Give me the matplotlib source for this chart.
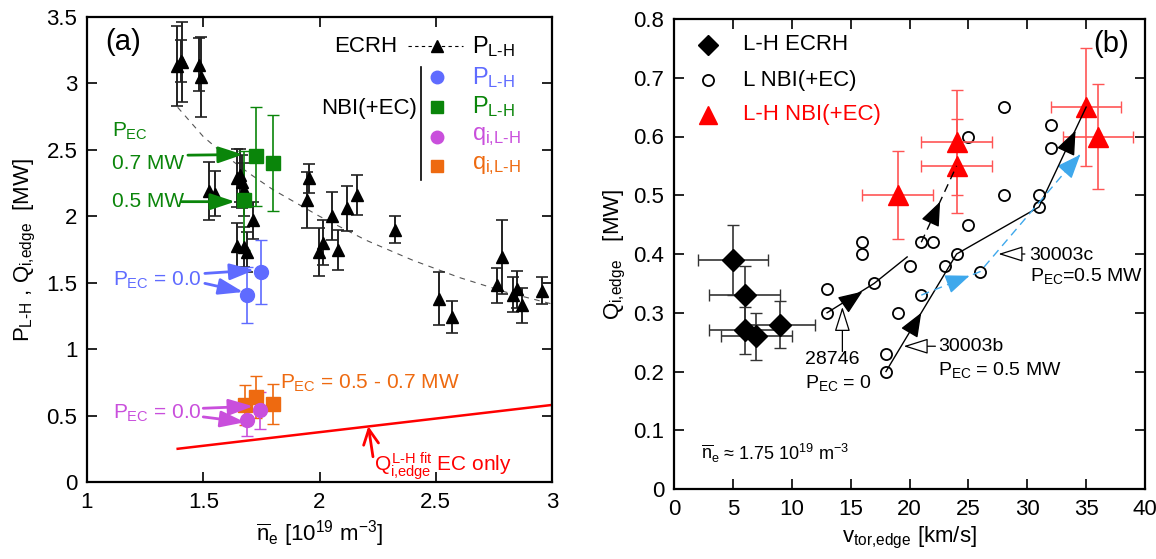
import matplotlib
matplotlib.use("Agg")
import matplotlib.pyplot as plt

plt.rcParams['font.family'] = ['Liberation Sans', 'DejaVu Sans']
plt.rcParams['mathtext.fontset'] = 'custom'
plt.rcParams['mathtext.rm'] = 'Liberation Sans'
plt.rcParams['mathtext.it'] = 'Liberation Sans'
plt.rcParams['mathtext.bf'] = 'Liberation Sans:bold'

BLUE = '#5f6bff'
GREEN = '#0a850a'
MAGENTA = '#c94fdc'
ORANGE = '#ee6a10'
LBLUE = '#3ea8ec'
HY = '\u2010'  # hyphen inside mathtext

# ---------------- panel (a) data ----------------
ecrh_ne = [1.385, 1.41, 1.405, 1.483, 1.49, 1.526, 1.55, 1.644, 1.658, 1.665,
           1.677, 1.713, 1.646, 1.677, 1.687, 1.948, 1.955, 1.999, 2.016, 2.052,
           2.081, 2.12, 2.16, 2.325, 2.514, 2.569, 2.765, 2.784, 2.831, 2.851,
           2.87, 2.958]
ecrh_p = [3.13, 3.16, 3.17, 3.14, 3.05, 2.19, 2.17, 2.29, 2.31, 2.26,
          2.20, 1.97, 1.78, 1.77, 1.73, 2.12, 2.285, 1.73, 1.80, 2.00,
          1.745, 2.06, 2.16, 1.90, 1.38, 1.24, 1.48, 1.695, 1.41, 1.45,
          1.33, 1.44]
ecrh_err = [0.30, 0.30, 0.16, 0.20, 0.30, 0.22, 0.17, 0.22, 0.20, 0.20,
            0.20, 0.14, 0.17, 0.15, 0.15, 0.21, 0.11, 0.18, 0.17, 0.18,
            0.15, 0.17, 0.15, 0.10, 0.20, 0.12, 0.13, 0.28, 0.13, 0.14,
            0.13, 0.10]

fit_ne = [1.39, 1.5, 1.6, 1.7, 1.8, 1.9, 2.0, 2.2, 2.4, 2.6, 2.8, 3.0]
fit_p = [2.82, 2.60, 2.45, 2.32, 2.20, 2.10, 2.00, 1.82, 1.67, 1.54, 1.43, 1.34]

nbi0_ne = [1.69, 1.747]
nbi0_p = [1.41, 1.58]
nbi0_err = [0.21, 0.24]

nbiec_ne = [1.677, 1.727, 1.799]
nbiec_p = [2.12, 2.45, 2.40]
nbiec_err = [0.37, 0.37, 0.36]

q0_ne = [1.687, 1.744]
q0 = [0.47, 0.54]
q0_err = [0.12, 0.14]

qec_ne = [1.68, 1.726, 1.80]
qec = [0.58, 0.64, 0.59]
qec_err = [0.15, 0.16, 0.15]

qfit_ne = [1.39, 3.0]
qfit = [0.25, 0.58]

# ---------------- panel (b) data ----------------
lh_ecrh_v = [5, 6, 6, 7, 9]
lh_ecrh_q = [0.39, 0.33, 0.27, 0.26, 0.28]
lh_ecrh_verr = [0.06, 0.05, 0.04, 0.04, 0.04]
lh_ecrh_herr = [3, 3, 3, 3, 3]

l_nbi_v = [28, 25, 28, 32, 32, 31, 31, 25, 21, 22, 16, 16, 24,
           13, 13, 17, 20, 19, 18, 18, 21, 23, 26]
l_nbi_q = [0.65, 0.60, 0.50, 0.62, 0.58, 0.50, 0.48, 0.45, 0.42, 0.42, 0.42, 0.40, 0.40,
           0.34, 0.30, 0.35, 0.38, 0.30, 0.23, 0.20, 0.33, 0.38, 0.37]

lh_nbi_v = [19, 24, 24, 35, 36]
lh_nbi_q = [0.50, 0.55, 0.59, 0.65, 0.60]
lh_nbi_verr = [0.075, 0.08, 0.09, 0.10, 0.09]
lh_nbi_herr = [3, 3, 3, 3, 3]

s28746_v = [13, 17, 19.8]
s28746_q = [0.30, 0.35, 0.395]
s28746b_v = [21, 24]
s28746b_q = [0.42, 0.55]
s30003b_v = [18, 24, 31, 35]
s30003b_q = [0.20, 0.40, 0.48, 0.65]
s30003c_v = [21, 26, 34.5]
s30003c_q = [0.33, 0.37, 0.57]

W, H = 1156, 559
fig = plt.figure(figsize=(W / 100, H / 100), dpi=100)
ax1 = fig.add_axes([87 / W, 1 - 482 / H, 465 / W, 465 / H])
ax2 = fig.add_axes([674 / W, 1 - 489 / H, 471 / W, 470 / H])

FS = 16


def style(ax):
    ax.tick_params(direction='in', top=True, right=True, length=7, width=1.2,
                   labelsize=FS, pad=7)
    for s in ax.spines.values():
        s.set_linewidth(1.6)


def head(ax, tail, tip, color, ms=30):
    ax.annotate('', xy=tip, xytext=tail,
                arrowprops=dict(arrowstyle='-|>,head_length=0.5,head_width=0.2',
                                color=color, lw=1, mutation_scale=ms,
                                shrinkA=0, shrinkB=0))


def arrow(ax, tail, tip, color, lw=2, ms=20):
    ax.annotate('', xy=tip, xytext=tail,
                arrowprops=dict(arrowstyle='-|>,head_length=0.75,head_width=0.25',
                                color=color, lw=lw, mutation_scale=ms,
                                shrinkA=0, shrinkB=0))


# ================= panel (a) =================
ax = ax1
ax.plot(fit_ne, fit_p, ls=(0, (5, 5)), color='#555555', lw=0.8)
ax.errorbar(ecrh_ne, ecrh_p, yerr=ecrh_err, fmt='^', color='k', ms=9,
            ecolor='#222222', elinewidth=1.4, capsize=4, capthick=1.2)
ax.errorbar(nbiec_ne, nbiec_p, yerr=nbiec_err, fmt='s', color=GREEN, ms=10,
            elinewidth=1.2, capsize=4)
ax.errorbar(nbi0_ne, nbi0_p, yerr=nbi0_err, fmt='o', color=BLUE, ms=10,
            elinewidth=1.2, capsize=4)
ax.errorbar(qec_ne, qec, yerr=qec_err, fmt='s', color=ORANGE, ms=10,
            elinewidth=1.2, capsize=4)
ax.errorbar(q0_ne, q0, yerr=q0_err, fmt='o', color=MAGENTA, ms=10,
            elinewidth=1.2, capsize=4)
ax.plot(qfit_ne, qfit, color='red', lw=1.8)

ax.set_xlim(1, 3)
ax.set_ylim(0, 3.5)
ax.set_xticks([1, 1.5, 2, 2.5, 3])
ax.set_xticklabels(['1', '1.5', '2', '2.5', '3'])
ax.set_yticks([0, 0.5, 1, 1.5, 2, 2.5, 3, 3.5])
ax.set_yticklabels(['0', '0.5', '1', '1.5', '2', '2.5', '3', '3.5'])
style(ax)
ax.set_xlabel(r'$\overline{n}_e$ [10$^{19}$ m$^{-3}$]', fontsize=FS, labelpad=4)
ax.set_ylabel(r'$P_{L' + HY + r'H}$ , $Q_{i{,}edge}$  [MW]', fontsize=FS, labelpad=6)

ax.text(1.077, 3.31, '(a)', fontsize=21, va='center')

# legend (a)
ax.text(2.333, 3.28, 'ECRH', fontsize=FS, ha='right', va='center')
ax.plot([2.381, 2.617], [3.28, 3.28], ls=(0, (3, 3)), color='k', lw=0.8)
ax.plot([2.504], [3.28], '^', color='k', ms=8)
ax.text(2.655, 3.28, r'$P_{L' + HY + 'H}$', fontsize=FS + 1, va='center')
ax.plot([2.435, 2.435], [2.272, 3.125], color='k', lw=1.2)
ax.text(2.419, 2.814, 'NBI(+EC)', fontsize=FS, ha='right', va='center')
leg_rows = [(3.045, 'o', BLUE, r'$P_{L' + HY + 'H}$'),
            (2.824, 's', GREEN, r'$P_{L' + HY + 'H}$'),
            (2.598, 'o', MAGENTA, r'$q_{i{,}L' + HY + 'H}$'),
            (2.380, 's', ORANGE, r'$q_{i{,}L' + HY + 'H}$')]
for y, m, c, lab in leg_rows:
    ax.plot([2.504], [y], m, color=c, ms=9)
    ax.text(2.655, y, lab, color=c, fontsize=FS + 1, va='center')

# annotations (a)
ax.text(1.108, 2.64, r'$P_{EC}$', color=GREEN, fontsize=15, va='center')
ax.text(1.108, 2.40, '0.7 MW', color=GREEN, fontsize=15, va='center')
ax.text(1.108, 2.11, '0.5 MW', color=GREEN, fontsize=15, va='center')
arrow(ax, (1.434, 2.46), (1.671, 2.465), GREEN)
arrow(ax, (1.407, 2.11), (1.637, 2.11), GREEN)

ax.text(1.113, 1.52, r'$P_{EC}$ = 0.0', color=BLUE, fontsize=15, va='center')
arrow(ax, (1.507, 1.57), (1.72, 1.595), BLUE)
arrow(ax, (1.507, 1.495), (1.672, 1.43), BLUE)

ax.text(1.113, 0.52, r'$P_{EC}$ = 0.0', color=MAGENTA, fontsize=15, va='center')
arrow(ax, (1.50, 0.555), (1.715, 0.57), MAGENTA)
arrow(ax, (1.50, 0.49), (1.68, 0.45), MAGENTA)

ax.text(1.83, 0.74, r'$P_{EC}$ = 0.5 - 0.7 MW', color=ORANGE, fontsize=15, va='center')

ax.annotate('', xy=(2.21, 0.42), xytext=(2.23, 0.19),
            arrowprops=dict(arrowstyle='->,head_length=0.6,head_width=0.3',
                            color='red', lw=2, mutation_scale=18,
                            shrinkA=0, shrinkB=0))
ax.text(2.235, 0.12, r'$Q_{i{,}edge}^{L' + HY + r'H\ fit}$ EC only', color='red',
        fontsize=15, va='center')

# ================= panel (b) =================
ax = ax2
ax.errorbar(lh_ecrh_v, lh_ecrh_q, yerr=lh_ecrh_verr, xerr=lh_ecrh_herr, fmt='D',
            color='k', ms=11, ecolor='#333333', elinewidth=1.2, capsize=4, zorder=3)
ax.errorbar(lh_nbi_v, lh_nbi_q, yerr=lh_nbi_verr, xerr=lh_nbi_herr, fmt='^',
            color='red', ms=14, ecolor='#ff5555', elinewidth=1.2, capsize=4, zorder=3)
ax.plot(l_nbi_v, l_nbi_q, 'o', mfc='white', mec='k', mew=1.3, ms=8, zorder=2)

ax.plot(s28746_v, s28746_q, color='k', lw=1, zorder=4)
ax.plot(s28746b_v, s28746b_q, color='k', lw=1, ls=(0, (6, 4)), zorder=4)
ax.plot(s30003b_v, s30003b_q, color='k', lw=1, zorder=4)
ax.plot(s30003c_v, s30003c_q, color=LBLUE, lw=1, ls=(0, (6, 4)), zorder=4)
head(ax, (15.0, 0.322), (16.0, 0.336), 'k')
head(ax, (22.0, 0.463), (22.6, 0.489), 'k')
head(ax, (20.5, 0.283), (21.0, 0.30), 'k')
head(ax, (33.5, 0.584), (34.1, 0.61), 'k')
head(ax, (23.4, 0.35), (25.1, 0.363), LBLUE)
head(ax, (33.2, 0.54), (34.5, 0.569), LBLUE)


def open_arrow(tail, tip):
    ax.annotate('', xy=tip, xytext=tail,
                arrowprops=dict(arrowstyle='-|>,head_length=0.7,head_width=0.22',
                                fc='white', ec='k', lw=0.9, mutation_scale=22,
                                shrinkA=0, shrinkB=0))


open_arrow((14.3, 0.234), (14.3, 0.31))
open_arrow((22.2, 0.243), (19.5, 0.243))
open_arrow((29.8, 0.40), (27.55, 0.40))
ax.text(11.1, 0.22, '28746', fontsize=14, va='center')
ax.text(11.1, 0.18, r'$P_{EC}$ = 0', fontsize=14, va='center')
ax.text(22.4, 0.242, '30003b', fontsize=14, va='center')
ax.text(22.4, 0.203, r'$P_{EC}$ = 0.5 MW', fontsize=14, va='center')
ax.text(30.2, 0.398, '30003c', fontsize=14, va='center')
ax.text(30.2, 0.362, r'$P_{EC}$=0.5 MW', fontsize=14, va='center')
ax.text(2.3, 0.06, r'$\overline{n}_e$ ≈ 1.75 10$^{19}$ m$^{-3}$', fontsize=13, va='center')
ax.text(38.6, 0.757, '(b)', fontsize=21, va='center', ha='right')

# legend (b)
ax.plot([2.9], [0.756], 'D', color='k', ms=10)
ax.plot([2.9], [0.696], 'o', mfc='white', mec='k', mew=1.3, ms=8)
ax.plot([2.9], [0.637], '^', color='red', ms=13)
ax.text(5.9, 0.756, 'L-H ECRH', fontsize=FS, va='center')
ax.text(5.9, 0.696, 'L NBI(+EC)', fontsize=FS, va='center')
ax.text(5.9, 0.637, 'L-H NBI(+EC)', fontsize=FS, va='center', color='red')

ax.set_xlim(0, 40)
ax.set_ylim(0, 0.8)
ax.set_xticks(range(0, 41, 5))
ax.set_yticks([0, 0.1, 0.2, 0.3, 0.4, 0.5, 0.6, 0.7, 0.8])
ax.set_yticklabels(['0', '0.1', '0.2', '0.3', '0.4', '0.5', '0.6', '0.7', '0.8'])
style(ax)
ax.set_xlabel(r'$v_{tor{,}edge}$ [km/s]', fontsize=FS, labelpad=4)
ax.set_ylabel(r'$Q_{i{,}edge}$   [MW]', fontsize=FS, labelpad=4)

fig.savefig('out.png', dpi=100)
